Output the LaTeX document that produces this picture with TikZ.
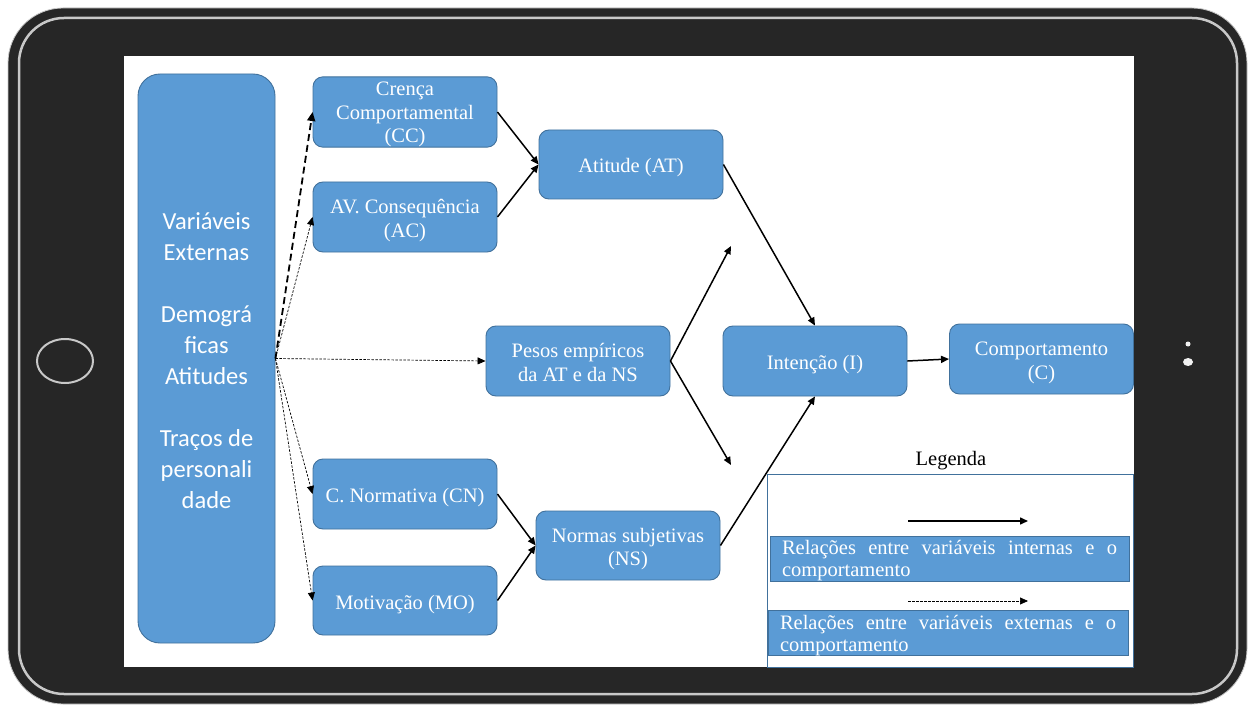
\documentclass[tikz,border=0pt]{standalone}
\usepackage{fontspec}
\setmainfont{Liberation Serif}
\newfontfamily\calib{Carlito}
\usetikzlibrary{arrows.meta}
\definecolor{boxblue}{HTML}{5B9BD5}
\definecolor{boxedge}{HTML}{41719C}
\definecolor{tabdark}{HTML}{262626}
\definecolor{tabline}{HTML}{C8C8C8}
\newcommand\tp{\rule{0pt}{22pt}}
\newcommand\bt{\rule[-5pt]{0pt}{5pt}}
\begin{document}
\begin{tikzpicture}[x=1pt,y=-1pt,
  box/.style={rectangle, rounded corners=10pt, fill=boxblue, draw=boxedge, line width=0.9pt,
    text=white, align=center, inner sep=0pt, minimum width=184pt, minimum height=70pt,
    font=\fontsize{20.5}{23.5}\selectfont},
  bigbox/.style={rectangle, rounded corners=22pt, fill=boxblue, draw=boxedge, line width=0.9pt,
    text=white, align=center, inner sep=0pt, minimum width=137pt, minimum height=569pt,
    font=\calib\fontsize{24.5}{31}\selectfont},
  legbox/.style={rectangle, fill=boxblue, draw=boxedge, line width=0.9pt, text=white,
    align=justify, inner ysep=0pt, inner xsep=12pt, text width=335pt, minimum height=45pt,
    font=\fontsize{20.5}{22}\selectfont},
  conn/.style={line width=1.5pt, -{Triangle[length=8pt,width=7pt]}},
  ext/.style={line width=0.7pt, dash pattern=on 2.5pt off 1.5pt, -{Triangle[length=8pt,width=7pt]}},
  extthick/.style={line width=1.8pt, dash pattern=on 7pt off 4pt, -{Triangle[length=9pt,width=8pt]}}
]
\useasboundingbox (0,0) rectangle (1254,706);
% tablet
\fill[white] (0,0) rectangle (1254,706);
\draw[fill=tabdark, draw=tabline, line width=0.8pt, rounded corners=55pt] (8,8) rectangle (1247,704);
\draw[draw=tabline, line width=2.5pt, rounded corners=45pt] (19,18) rectangle (1237,694);
\fill[white] (124,56) rectangle (1134,667);
\draw[tabline, line width=2pt] (65,361) ellipse [x radius=28pt, y radius=22pt];
\fill[white!90!gray] (1188,344) circle [radius=2.5pt];
\fill[white!90!gray] (1188,362) ellipse [x radius=5pt, y radius=4pt];

% nodes
\node[bigbox] (big) at (206.5,358.5) {\rule{0pt}{21pt}Variáveis\\Externas\\[31pt]Demográ\\ficas\\Atitudes\\[31pt]Traços de\\personali\\dade};
\node[box] (cc) at (405,112) {\rule{0pt}{19pt}Crença\\Comportamental\\(CC)\rule[-3.5pt]{0pt}{3.5pt}};
\node[box] (ac) at (405,217) {\tp AV. Consequência\\(AC)\bt};
\node[box, minimum height=69pt] (at) at (631,164.5) {\tp Atitude (AT)\bt};
\node[box] (pe) at (578,361) {\tp Pesos empíricos\\da AT e da NS\bt};
\node[box] (in) at (815,361) {\tp Intenção (I)\bt};
\node[box] (co) at (1041.5,359) {\tp Comportamento\\(C)\bt};
\node[box] (cn) at (405,494) {\tp C. Normativa (CN)\bt};
\node[box, minimum height=69pt] (mo) at (405,600.5) {\tp Motivação (MO)\bt};
\node[box, minimum height=69pt] (ns) at (628,545.5) {\tp Normas subjetivas\\(NS)\bt};

\coordinate (up) at (731,246);
\coordinate (dn) at (731,465);

% internal relations
\draw[conn] (cc.east) -- (at.west);
\draw[conn] (ac.east) -- (at.west);
\draw[conn] (cn.east) -- (ns.west);
\draw[conn] (mo.east) -- (ns.west);
\draw[conn] (at.east) -- (in.north);
\draw[conn] (ns.east) -- (in.south);
\draw[conn] (in.east) -- (co.west);
\draw[conn] (pe.east) -- (up);
\draw[conn] (pe.east) -- (dn);

% external relations
\draw[extthick] (big.east) -- (cc.west);
\draw[ext] (big.east) -- (ac.west);
\draw[ext] (big.east) -- (pe.west);
\draw[ext] (big.east) -- (cn.west);
\draw[ext] (big.east) -- (mo.west);

% legend
\node[font=\fontsize{20.5}{23.5}\selectfont, text=black] (legt) at (951,461) {Legenda};
\node[draw=boxedge, line width=0.9pt, minimum width=366pt, minimum height=193pt, inner sep=0pt] (leg) at (950.5,570.5) {};
\coordinate (l1a) at (908,521);
\coordinate (l1b) at (1028,521);
\coordinate (l2a) at (908,601);
\coordinate (l2b) at (1028,601);
\draw[conn] (l1a) -- (l1b);
\draw[ext] (l2a) -- (l2b);
\node[legbox] (lg1) at (949.5,558.5) {\rule{0pt}{18.5pt}Relações entre variáveis internas e o\linebreak comportamento};
\node[legbox, text width=336pt] (lg2) at (948,633) {\rule{0pt}{18.5pt}Relações entre variáveis externas e o\linebreak comportamento};
\end{tikzpicture}
\end{document}
